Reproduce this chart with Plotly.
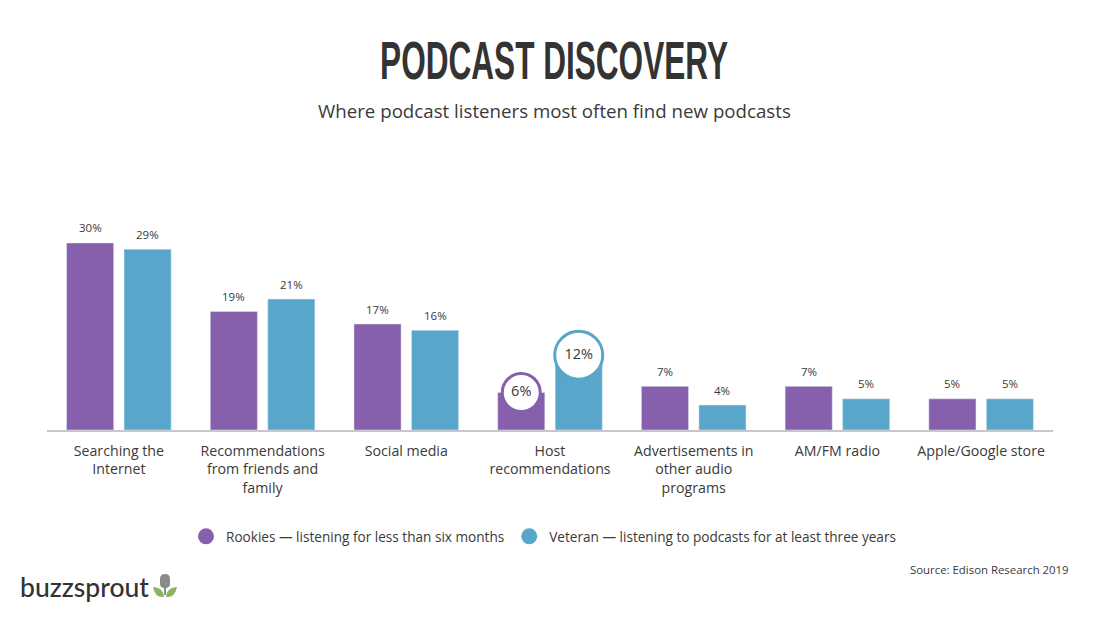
import plotly.graph_objects as go

# Podcast discovery chart
categories = [
    "Searching the<br>Internet",
    "Recommendations<br>from friends and<br>family",
    "Social media",
    "Host<br>recommendations",
    "Advertisements in<br>other audio<br>programs",
    "AM/FM radio",
    "Apple/Google store",
]
rookies = [30, 19, 17, 6, 7, 7, 5]
veterans = [29, 21, 16, 12, 4, 5, 5]
rookie_name = "Rookies — listening for less than six months"
veteran_name = "Veteran — listening to podcasts for at least three years"
title = "PODCAST DISCOVERY"

PURPLE = "#8660ac"
BLUE = "#58a6c9"
DARK = "#3a3a3a"
FONT = "Open Sans"
W = 1109
H = 619
OFFSET = 0.2
HIGHLIGHT = 3  # host recommendations gets the circled labels


def px(x):
    return x / W


def py(y):
    return 1 - y / H


def note(x, y, text, size, family=FONT, color=DARK, anchor="center", weight="normal"):
    fig.add_annotation(xref="paper", yref="paper", x=px(x), y=py(y), xanchor=anchor, yanchor="middle",
                       text=text, showarrow=False,
                       font=dict(family=family, size=size, color=color, weight=weight))


fig = go.Figure()
positions = list(range(len(categories)))

fig.add_trace(go.Bar(x=positions, y=rookies, name=rookie_name, marker_color=PURPLE, showlegend=False))
fig.add_trace(go.Bar(x=positions, y=veterans, name=veteran_name, marker_color=BLUE, showlegend=False))

# circled labels on the host bars
fig.add_trace(go.Scatter(
    x=[HIGHLIGHT - OFFSET], y=[rookies[HIGHLIGHT]], mode="markers+text",
    marker=dict(size=38, color="white", line=dict(color=PURPLE, width=3)),
    text=[f"{rookies[HIGHLIGHT]}%"], textposition="middle center",
    textfont=dict(family=FONT, size=14.5, color=DARK),
    showlegend=False, hoverinfo="skip", cliponaxis=False,
))
fig.add_trace(go.Scatter(
    x=[HIGHLIGHT + OFFSET], y=[veterans[HIGHLIGHT]], mode="markers+text",
    marker=dict(size=48, color="white", line=dict(color=BLUE, width=3)),
    text=[f"{veterans[HIGHLIGHT]}%"], textposition="middle center",
    textfont=dict(family=FONT, size=14.5, color=DARK),
    showlegend=False, hoverinfo="skip", cliponaxis=False,
))

# legend entries as round dots
for name, color in [(rookie_name, PURPLE), (veteran_name, BLUE)]:
    fig.add_trace(go.Scatter(x=[None], y=[None], mode="markers", name=name,
                             marker=dict(size=16, color=color)))

# value labels above the other bars
for i in positions:
    if i == HIGHLIGHT:
        continue
    for value, shift in [(rookies[i], -OFFSET), (veterans[i], OFFSET)]:
        fig.add_annotation(x=i + shift, y=value, text=f"{value}%", showarrow=False, yshift=15,
                           font=dict(family=FONT, size=11.5, color=DARK))

note(554, 60, title, 53, family="Liberation Sans", color="#333333", weight="bold")
note(554, 111, "Where podcast listeners most often find new podcasts", 18.7)
note(1071, 569, "Source: Edison Research 2019", 11.4, anchor="right")
note(18, 587, "buzzsprout", 26.5, family="Lato", color="#333333", anchor="left", weight=500)


def shape_path(points):
    # points after the first are Q control/end pairs, in picture pixels
    x0, y0 = points[0]
    parts = [f"M {px(x0)} {py(y0)}"]
    for (cx, cy), (ex, ey) in zip(points[1::2], points[2::2]):
        parts.append(f"Q {px(cx)} {py(cy)} {px(ex)} {py(ey)}")
    return " ".join(parts) + " Z"


# little logo mark next to the wordmark
leaf_left = [(164, 597), (155, 598), (153, 587), (163, 587), (164, 597)]
leaf_right = [(166, 597), (175, 598), (177, 587), (167, 587), (166, 597)]
mic = [(160, 579), (160, 574), (165, 574), (170, 574), (170, 579),
       (170, 584), (170, 584), (170, 588), (165, 588), (160, 588), (160, 584)]
shapes = [
    dict(type="path", xref="paper", yref="paper", fillcolor="#8cb45f", line_width=0, path=shape_path(leaf_left)),
    dict(type="path", xref="paper", yref="paper", fillcolor="#8cb45f", line_width=0, path=shape_path(leaf_right)),
    dict(type="path", xref="paper", yref="paper", fillcolor="#8a8a8a", line_width=0, path=shape_path(mic)),
    dict(type="rect", xref="paper", yref="paper", x0=px(164), x1=px(166), y0=py(587), y1=py(595),
         fillcolor="#8a8a8a", line_width=0),
]

fig.update_layout(
    width=W, height=H,
    margin=dict(l=0, r=0, t=0, b=0),
    paper_bgcolor="white", plot_bgcolor="white",
    barmode="group", bargap=0.2, bargroupgap=0.18,
    shapes=shapes,
    font=dict(family=FONT, color=DARK),
    legend=dict(orientation="h", x=px(186), y=py(536.5), xanchor="left", yanchor="middle",
                font=dict(family=FONT, size=13.6, color=DARK),
                bgcolor="rgba(0,0,0,0)"),
    xaxis=dict(domain=[px(47), px(1053)], range=[-0.5, 6.5], tickmode="array",
               tickvals=positions, ticktext=categories, showgrid=False, zeroline=False,
               showline=True, linecolor="#c8c6cc", linewidth=1.5, ticks="", ticklabelstandoff=7,
               tickfont=dict(family=FONT, size=14.2, color=DARK), automargin=False),
    yaxis=dict(domain=[py(430), py(180)], range=[0, 40.1], visible=False, automargin=False),
)

# no condensed font is installed, so squeeze the headline sideways once it is drawn
squeeze = """
document.body.style.margin = '0';
var heads = document.querySelectorAll('.annotation-text');
heads.forEach(function (t) {
    if (t.textContent !== '%s') { return; }
    var b = t.getBBox();
    var cx = b.x + b.width / 2;
    t.setAttribute('transform', 'translate(' + cx + ' 0) scale(' + (348 / b.width) + ' 1) translate(' + (-cx) + ' 0)');
});
""" % title

fig.write_html("out.html", post_script=squeeze, config={"displayModeBar": False})
